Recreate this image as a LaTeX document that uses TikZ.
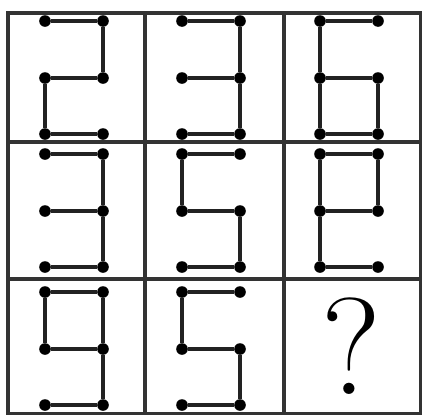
\documentclass[tikz,border=0pt]{standalone}
\usepackage{xcolor}
\usepackage{tikz}
\definecolor{GridInk}{HTML}{333333}
\definecolor{SegInk}{HTML}{222222}

\tikzset{
  gridline/.style={GridInk,line width=2.4pt},
  segline/.style={SegInk,line width=2.4pt},
  pin/.style={circle,fill=black,inner sep=0pt,minimum size=0.29cm}
}

\begin{document}
\begin{tikzpicture}[x=0.025cm,y=-0.025cm]
\path[use as bounding box] (0,0) rectangle (422,415);
% grid
\draw[gridline] (8,13) rectangle (421,414);
\draw[gridline] (145,13) -- (145,414);
\draw[gridline] (284,13) -- (284,414);
\draw[gridline] (8,142) -- (421,142);
\draw[gridline] (8,279) -- (421,279);
% six pins in every cell but the last
\foreach \r/\ty in {1/21,2/154,3/292}
  \foreach \c/\lx in {1/45,2/182,3/320}{
    \ifnum\r\c=33\else
    \node[pin] (d\r\c tl) at (\lx,\ty) {};
    \node[pin] (d\r\c tr) at (\lx+58,\ty) {};
    \node[pin] (d\r\c ml) at (\lx,\ty+57) {};
    \node[pin] (d\r\c mr) at (\lx+58,\ty+57) {};
    \node[pin] (d\r\c bl) at (\lx,\ty+113) {};
    \node[pin] (d\r\c br) at (\lx+58,\ty+113) {};
    \fi
  }
% row 1
\draw[segline] (d11tl) -- (d11tr) -- (d11mr) -- (d11ml) -- (d11bl) -- (d11br);
\draw[segline] (d12tl) -- (d12tr) -- (d12mr) -- (d12br) -- (d12bl);
\draw[segline] (d12ml) -- (d12mr);
\draw[segline] (d13tr) -- (d13tl) -- (d13ml) -- (d13bl) -- (d13br) -- (d13mr) -- (d13ml);
% row 2
\draw[segline] (d21tl) -- (d21tr) -- (d21mr) -- (d21br) -- (d21bl);
\draw[segline] (d21ml) -- (d21mr);
\draw[segline] (d22tr) -- (d22tl) -- (d22ml) -- (d22mr) -- (d22br) -- (d22bl);
\draw[segline] (d23br) -- (d23bl) -- (d23ml) -- (d23tl) -- (d23tr) -- (d23mr) -- (d23ml);
% row 3
\draw[segline] (d31mr) -- (d31ml) -- (d31tl) -- (d31tr) -- (d31mr) -- (d31br) -- (d31bl);
\draw[segline] (d32tr) -- (d32tl) -- (d32ml) -- (d32mr) -- (d32br) -- (d32bl);
% the open cell
\node[inner sep=0pt] (ask) at (351,346) {\fontsize{98}{98}\selectfont ?};
\end{tikzpicture}
\end{document}
